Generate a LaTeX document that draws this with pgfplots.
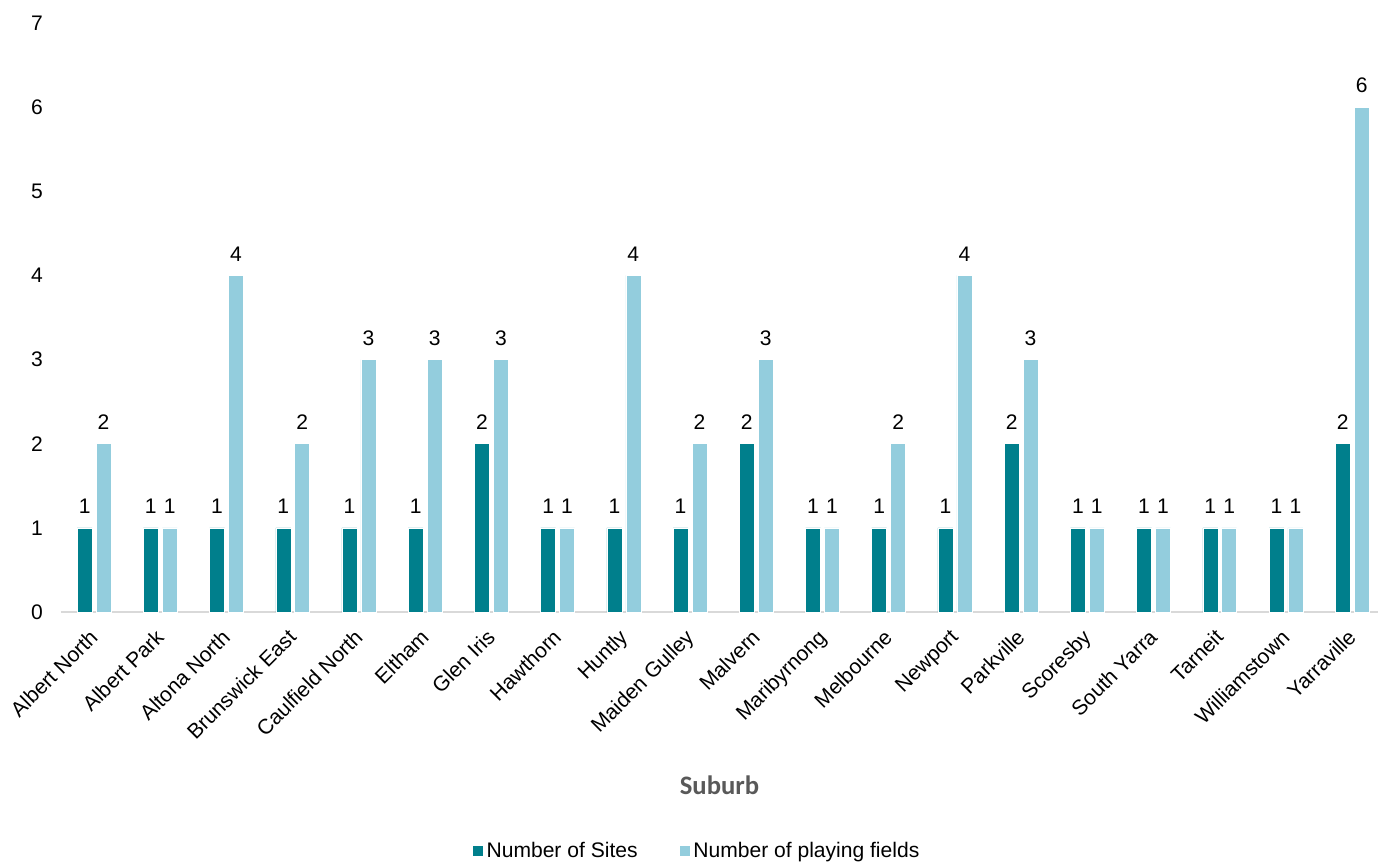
\documentclass[border=0pt]{standalone}
\usepackage{pgfplots}
\pgfplotsset{compat=1.18}
\usepackage{fontspec}
\setmainfont{Liberation Sans}
\newfontfamily\labelfont{Carlito}

\definecolor{sites}{HTML}{007F8C}
\definecolor{fields}{HTML}{93CDDD}
\definecolor{axisgray}{HTML}{D9D9D9}
\definecolor{titlegray}{HTML}{595959}

\newcommand{\chartfont}{\fontsize{15.8}{19}\selectfont}

\begin{document}
\begin{tikzpicture}[x=0.75pt,y=0.75pt]
\begin{axis}[
    at={(0,0)}, anchor=south west,
    scale only axis,
    width=987.75pt, height=441.75pt,
    ybar=0pt,
    bar width=11.25pt,
    ymin=0, ymax=7,
    ytick={0,1,...,7},
    xmin=-0.5, xmax=19.39,
    xtick={0,...,19},
    xticklabels={Albert North,Albert Park,Altona North,Brunswick East,Caulfield North,Eltham,Glen Iris,Hawthorn,Huntly,Maiden Gulley,Malvern,Maribyrnong,Melbourne,Newport,Parkville,Scoresby,South Yarra,Tarneit,Williamstown,Yarraville},
    axis y line*=left,
    y axis line style={draw=none},
    axis x line*=bottom,
    x axis line style={axisgray, line width=1.3pt, -},
    major tick length=0pt,
    xtick style={draw=none},
    ytick style={draw=none},
    /pgf/number format/assume math mode=true,
    ticklabel style={font=\chartfont},
    xticklabel style={rotate=45, anchor=north east, inner sep=0pt, xshift=-11.4pt, yshift=-5.1pt},
    yticklabel style={anchor=east, inner sep=0pt, xshift=-13.5pt},
    xlabel={Suburb},
    xlabel style={font=\labelfont\bfseries\fontsize{20}{24}\selectfont, text=titlegray,
        at={(axis description cs:0.5,-0.2937)}, anchor=center},
    nodes near coords,
    every node near coord/.append style={font=\chartfont, text=black, yshift=7pt},
    legend columns=2,
    legend style={draw=none, fill=none, font=\chartfont,
        at={(axis description cs:0.483,-0.4058)}, anchor=center,
        /tikz/every even column/.append style={column sep=29pt}},
    legend image code/.code={\fill[#1] (0pt,-4.2pt) rectangle (8.4pt,4.2pt);},
    clip=false,
]
\addplot[fill=sites, draw=white, line width=0.4pt, bar shift=-7.1pt] coordinates {
    (0,1) (1,1) (2,1) (3,1) (4,1) (5,1) (6,2) (7,1) (8,1) (9,1)
    (10,2) (11,1) (12,1) (13,1) (14,2) (15,1) (16,1) (17,1) (18,1) (19,2)
};
\addlegendentry{Number of Sites}
\addplot[fill=fields, draw=white, line width=0.4pt, bar shift=7.1pt] coordinates {
    (0,2) (1,1) (2,4) (3,2) (4,3) (5,3) (6,3) (7,1) (8,4) (9,2)
    (10,3) (11,1) (12,2) (13,4) (14,3) (15,1) (16,1) (17,1) (18,1) (19,6)
};
\addlegendentry{Number of playing fields}
\end{axis}
\pgfresetboundingbox
\path (-61,-252) rectangle (1317,612);
\end{tikzpicture}
\end{document}
